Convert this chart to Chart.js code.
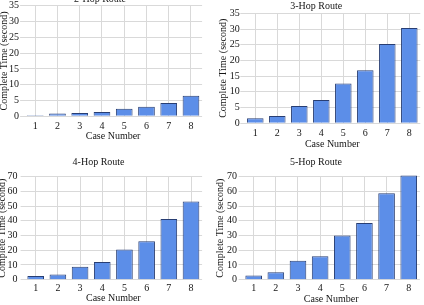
<!DOCTYPE html>
<html>
<head>
<meta charset="utf-8">
<style>
  body { margin:0; background:#fff; width:424px; height:305px; overflow:hidden; position:relative; }
  .panel { position:absolute; width:212px; }
</style>
</head>
<body>
<div class="panel" style="left:-2px;top:-8px;height:152px"><canvas id="c1"></canvas></div>
<div class="panel" style="left:212px;top:0;height:152px"><canvas id="c2"></canvas></div>
<div class="panel" style="left:-5px;top:152px;height:153px"><canvas id="c3"></canvas></div>
<div class="panel" style="left:212px;top:152px;height:153px"><canvas id="c4"></canvas></div>

<script src="https://cdn.jsdelivr.net/npm/chart.js"></script>
<script>
  const cases = ['1','2','3','4','5','6','7','8'];
  const hop2 = [0.3, 0.85, 1.05, 1.4, 2.4, 3.05, 4.2, 6.5];
  const hop3 = [1.6, 2.3, 5.5, 7.4, 12.7, 16.9, 25.2, 30.3];
  const hop4 = [2.5, 3.6, 8.8, 12.0, 20.6, 26.1, 41.2, 53.2];
  const hop5 = [2.9, 5.0, 12.9, 15.9, 30.1, 38.5, 58.7, 70.9];
  const titles = ['2-Hop Route','3-Hop Route','4-Hop Route','5-Hop Route'];
  const yMax = [35, 35, 70, 70];
  const yStep = [5, 5, 10, 10];

  const series = [hop2, hop3, hop4, hop5];
  const font = { family: 'Liberation Serif', size: 10, weight: 'normal' };
  const ink = '#151515';

  // per-panel layout tweaks so plot areas line up with the original figure
  const geo = [
    { yw: 26.1, xh: 27.7, padR: 7.9, tTop: 1.0, tBot: 0.7, yt: 0,   yPad: 1,   tick: 3.7, xt: 2 },
    { yw: 32.3, xh: 28.7, padR: 3.7, tTop: 0.7, tBot: 0.6, yt: 5.7, yPad: 0.5, tick: 3.7, xt: 2 },
    { yw: 29.6, xh: 25.3, padR: 4.9, tTop: 4.7, tBot: 8.0, yt: 1.5, yPad: 3,   tick: 3.0, xt: 0.3 },
    { yw: 30.6, xh: 25.3, padR: 4.2, tTop: 4.7, tBot: 8.0, yt: 2.5, yPad: 1.5, tick: 2.3, xt: 0 }
  ];

  series.forEach((vals, i) => {
    const g = geo[i];
    new Chart(document.getElementById('c' + (i + 1)), {
      type: 'bar',
      data: {
        labels: cases,
        datasets: [{
          data: vals,
          backgroundColor: 'rgb(92,142,232)',
          borderColor: 'rgb(40,62,115)',
          borderWidth: 1,
          barPercentage: 0.75,
          categoryPercentage: 1.0,
          clip: false
        }]
      },
      options: {
        responsive: true,
        maintainAspectRatio: false,
        animation: false,
        layout: { padding: { left: 0, right: g.padR, top: 0, bottom: 0 } },
        plugins: {
          legend: { display: false },
          tooltip: { enabled: false },
          title: {
            display: true,
            text: titles[i],
            color: ink,
            font: font,
            padding: { top: g.tTop, bottom: g.tBot }
          }
        },
        scales: {
          x: {
            afterFit: s => { s.height = g.xh; },
            grid: { offset: false, color: '#d9d9d9', drawTicks: false },
            border: { display: false },
            ticks: { color: ink, font: font, padding: g.tick, maxRotation: 0 },
            title: { display: true, text: 'Case Number', color: ink, font: font, padding: { top: 0, bottom: g.xt } }
          },
          y: {
            min: 0,
            max: yMax[i],
            afterFit: s => { s.width = g.yw; },
            grid: { color: '#d9d9d9', tickLength: 4 },
            border: { display: false },
            ticks: { stepSize: yStep[i], autoSkip: false, color: ink, font: font, padding: g.yPad },
            title: { display: true, text: 'Complete Time (second)', color: ink, font: font, padding: { top: g.yt, bottom: 0 } }
          }
        }
      }
    });
  });
</script>
</body>
</html>
